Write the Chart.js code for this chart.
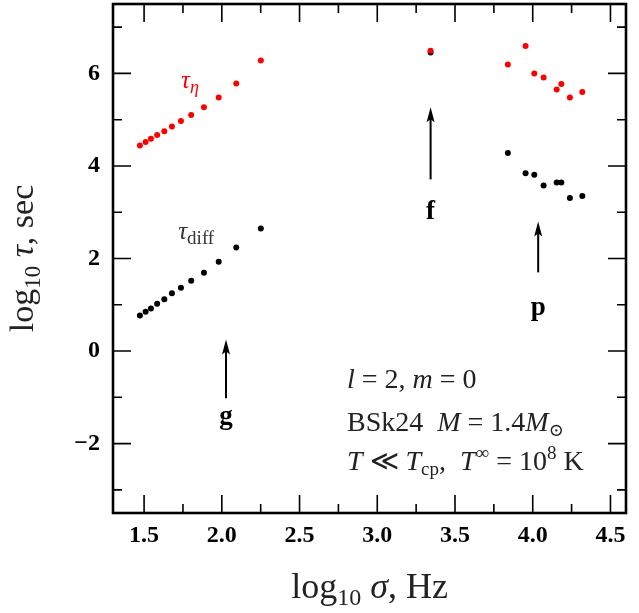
<!DOCTYPE html>
<html lang="en">
<head>
<meta charset="utf-8">
<title>Damping times of oscillation modes</title>
<script src="https://cdn.jsdelivr.net/npm/chart.js@4.4.1/dist/chart.umd.min.js"></script>
<style>
  html, body { margin: 0; padding: 0; background: #fff; }
  #wrap { width: 639px; height: 613px; }
</style>
</head>
<body>
<div id="wrap"><canvas id="modes" width="639" height="613"></canvas></div>
<script>
// log10 sigma (Hz) and log10 tau (sec)
const gSigma    = [1.473, 1.510, 1.544, 1.584, 1.630, 1.679, 1.737, 1.803, 1.885, 1.980, 2.093, 2.251];
const gTauEta   = [4.44, 4.52, 4.59, 4.67, 4.75, 4.85, 4.97, 5.10, 5.27, 5.48, 5.78, 6.28];
const gTauDiff  = [0.77, 0.85, 0.92, 1.02, 1.12, 1.25, 1.37, 1.52, 1.69, 1.93, 2.24, 2.65];
const fSigma    = [3.343];
const fTauEta   = [6.49];
const fTauDiff  = [6.45];
const pSigma    = [3.840, 3.954, 4.010, 4.070, 4.154, 4.184, 4.239, 4.319];
const pTauEta   = [6.19, 6.59, 6.00, 5.91, 5.65, 5.77, 5.48, 5.60];
const pTauDiff  = [4.28, 3.84, 3.81, 3.58, 3.64, 3.64, 3.31, 3.35];

// axes
const xRange = [1.3, 4.6];
const yRange = [-3.5, 7.5];
const xMajor = [1.5, 2.0, 2.5, 3.0, 3.5, 4.0, 4.5];
const xMinor = [1.75, 2.25, 2.75, 3.25, 3.75, 4.25];
const yMajor = [-2, 0, 2, 4, 6];
const yMinor = [-3, -1, 1, 3, 5, 7];

// mode arrows: which mode, where it points, and where its letter sits
const arrowMode  = ['g', 'f', 'p'];
const arrowSigma = [2.027, 3.343, 4.035];
const arrowFrom  = [-1.02, 3.71, 1.70];
const arrowTo    = [0.25, 5.27, 2.80];
const arrowLabel = [-1.43, 3.01, 0.93];

const SERIF = '"Liberation Serif", "DejaVu Serif", serif';
function font(size, style) { return (style ? style + ' ' : '') + size + 'px ' + SERIF; }

function points(xs, ys) { return xs.map((x, i) => ({x: x, y: ys[i]})); }

// draws a list of text pieces (different fonts / raised or lowered) one after another
function drawRuns(ctx, runs, x, y, align) {
  let w = 0;
  runs.forEach(r => { ctx.font = r.f; w += ctx.measureText(r.t).width; });
  let cx = align === 'center' ? x - w / 2 : x;
  runs.forEach(r => {
    ctx.font = r.f;
    ctx.fillText(r.t, cx, y + (r.dy || 0));
    cx += ctx.measureText(r.t).width;
  });
}

const deco = {
  id: 'deco',
  afterDraw(chart) {
    const ctx = chart.ctx;
    const a = chart.chartArea;
    const xs = chart.scales.x, ys = chart.scales.y;
    ctx.save();
    ctx.strokeStyle = '#000';
    ctx.fillStyle = '#000';

    // inward ticks on all four sides
    ctx.lineWidth = 1.6;
    function xt(v, len) {
      const px = xs.getPixelForValue(v);
      ctx.beginPath();
      ctx.moveTo(px, a.bottom); ctx.lineTo(px, a.bottom - len);
      ctx.moveTo(px, a.top); ctx.lineTo(px, a.top + len);
      ctx.stroke();
    }
    function yt(v, len) {
      const py = ys.getPixelForValue(v);
      ctx.beginPath();
      ctx.moveTo(a.left, py); ctx.lineTo(a.left + len, py);
      ctx.moveTo(a.right, py); ctx.lineTo(a.right - len, py);
      ctx.stroke();
    }
    xMajor.forEach(v => xt(v, 18));
    xMinor.forEach(v => xt(v, 9));
    yMajor.forEach(v => yt(v, 18));
    yMinor.forEach(v => yt(v, 9));

    // frame
    ctx.lineWidth = 2.6;
    ctx.strokeRect(a.left, a.top, a.right - a.left, a.bottom - a.top);

    // arrows and mode letters
    ctx.lineWidth = 2;
    arrowMode.forEach((m, i) => {
      const px = xs.getPixelForValue(arrowSigma[i]);
      const y0 = ys.getPixelForValue(arrowFrom[i]);
      const y1 = ys.getPixelForValue(arrowTo[i]);
      ctx.beginPath();
      ctx.moveTo(px, y0); ctx.lineTo(px, y1 + 10);
      ctx.stroke();
      ctx.beginPath();
      ctx.moveTo(px, y1);
      ctx.lineTo(px - 4, y1 + 15);
      ctx.lineTo(px, y1 + 12);
      ctx.lineTo(px + 4, y1 + 15);
      ctx.closePath();
      ctx.fill();
      ctx.font = font(27, 'bold');
      ctx.textAlign = 'center';
      ctx.textBaseline = 'middle';
      ctx.fillText(m, px, ys.getPixelForValue(arrowLabel[i]));
    });

    ctx.textAlign = 'left';
    ctx.textBaseline = 'alphabetic';

    // series labels
    ctx.fillStyle = '#f00';
    drawRuns(ctx, [
      {t: '\u03C4', f: font(25, 'italic')},
      {t: '\u03B7', f: font(18, 'italic'), dy: 5}
    ], xs.getPixelForValue(1.795), ys.getPixelForValue(5.69), 'center');
    ctx.fillStyle = '#333';
    drawRuns(ctx, [
      {t: '\u03C4', f: font(25, 'italic')},
      {t: 'diff', f: font(19), dy: 5}
    ], xs.getPixelForValue(1.835), ys.getPixelForValue(2.42), 'center');

    // parameters box text
    ctx.fillStyle = '#222';
    const tx = xs.getPixelForValue(2.805);
    drawRuns(ctx, [
      {t: 'l', f: font(28, 'italic')}, {t: ' = 2, ', f: font(28)},
      {t: 'm', f: font(28, 'italic')}, {t: ' = 0', f: font(28)}
    ], tx, ys.getPixelForValue(-0.79), 'left');
    drawRuns(ctx, [
      {t: 'BSk24  ', f: font(28)}, {t: 'M', f: font(28, 'italic')},
      {t: ' = 1.4', f: font(28)}, {t: 'M', f: font(28, 'italic')},
      {t: '\u2299', f: font(18), dy: 5}
    ], tx, ys.getPixelForValue(-1.72), 'left');
    drawRuns(ctx, [
      {t: 'T', f: font(28, 'italic')}, {t: ' \u226A ', f: font(28)},
      {t: 'T', f: font(28, 'italic')}, {t: 'cp', f: font(19), dy: 5},
      {t: ',  ', f: font(28)}, {t: 'T', f: font(28, 'italic')},
      {t: '\u221E', f: font(19), dy: -11}, {t: ' = 10', f: font(28)},
      {t: '8', f: font(19), dy: -11}, {t: ' K', f: font(28)}
    ], tx, ys.getPixelForValue(-2.58), 'left');

    // axis titles
    ctx.fillStyle = '#222';
    drawRuns(ctx, [
      {t: 'log', f: font(36)}, {t: '10', f: font(24), dy: 7},
      {t: ' \u03C3', f: font(36, 'italic')}, {t: ', Hz', f: font(36)}
    ], (a.left + a.right) / 2, 598, 'center');
    ctx.translate(33, (a.top + a.bottom) / 2);
    ctx.rotate(-Math.PI / 2);
    drawRuns(ctx, [
      {t: 'log', f: font(34)}, {t: '10', f: font(23), dy: 7},
      {t: ' \u03C4', f: font(34, 'italic')}, {t: ', sec', f: font(34)}
    ], 0, 0, 'center');
    ctx.restore();
  }
};

const minus = v => v < 0 ? '\u2212' + Math.abs(v) : String(v);

new Chart(document.getElementById('modes'), {
  type: 'scatter',
  data: {
    datasets: [
      {
        label: 'tau_eta',
        data: points(gSigma.concat(fSigma, pSigma), gTauEta.concat(fTauEta, pTauEta)),
        backgroundColor: '#ff0000',
        borderWidth: 0,
        pointRadius: 3,
        order: 0
      },
      {
        label: 'tau_diff',
        data: points(gSigma.concat(fSigma, pSigma), gTauDiff.concat(fTauDiff, pTauDiff)),
        backgroundColor: '#000000',
        borderWidth: 0,
        pointRadius: 3,
        order: 1
      }
    ]
  },
  options: {
    responsive: false,
    animation: false,
    devicePixelRatio: 1,
    layout: { padding: { top: 1, right: 13, left: 0, bottom: 0 } },
    plugins: { legend: { display: false }, tooltip: { enabled: false } },
    scales: {
      x: {
        type: 'linear',
        min: xRange[0], max: xRange[1],
        afterBuildTicks: s => { s.ticks = xMajor.map(v => ({value: v})); },
        afterFit: s => { s.height = 100; s.paddingLeft = 0; s.paddingRight = 0; },
        grid: { display: false, drawTicks: false },
        border: { display: false },
        ticks: {
          padding: 8,
          color: '#000',
          font: { family: SERIF, size: 24, weight: 'bold' },
          callback: v => Number(v).toFixed(1)
        }
      },
      y: {
        type: 'linear',
        min: yRange[0], max: yRange[1],
        afterBuildTicks: s => { s.ticks = yMajor.map(v => ({value: v})); },
        afterFit: s => { s.width = 113; s.paddingTop = 0; s.paddingBottom = 0; },
        grid: { display: false, drawTicks: false },
        border: { display: false },
        ticks: {
          padding: 13,
          color: '#000',
          font: { family: SERIF, size: 24, weight: 'bold' },
          callback: v => minus(v)
        }
      }
    }
  },
  plugins: [deco]
});
</script>
</body>
</html>
